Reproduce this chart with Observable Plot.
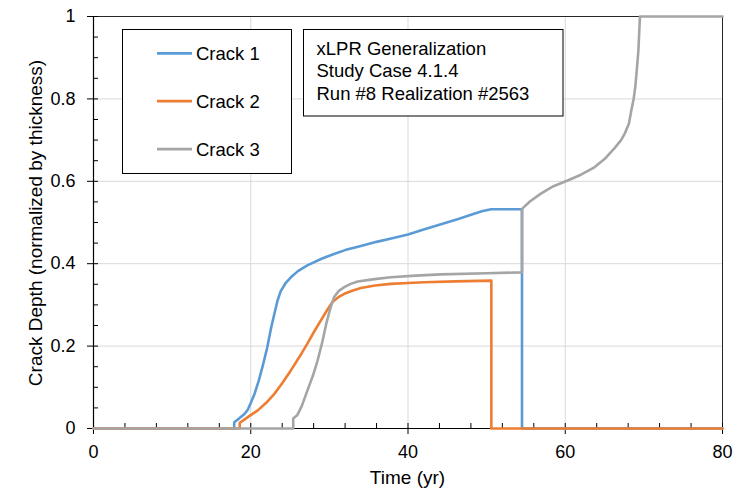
<!DOCTYPE html>
<html><head><meta charset="utf-8">
<script src="https://cdn.jsdelivr.net/npm/d3@7"></script>
<script src="https://cdn.jsdelivr.net/npm/@observablehq/plot@0.6"></script>
<style>
body{margin:0;background:#fff;}
#chart{position:relative;width:742px;height:489px;}
</style></head><body><div id="chart"></div>
<script>
// ---- data ----
const seriesNames = ["Crack 1", "Crack 2", "Crack 3"];
const seriesColors = ["#5B9BD5", "#ED7D31", "#A5A5A5"];

const crack1Time  = [0, 17.9, 17.9, 18.5, 19.2, 19.6, 20.0, 20.5, 21.0, 21.5, 22.1, 22.6, 23.0, 23.4, 23.8, 24.4, 25.1, 26.0, 27.2, 29.0, 30.5, 32.0, 34.0, 36.0, 38.0, 40.0, 42.0, 44.2, 46.5, 48.4, 49.5, 50.6, 54.5, 54.5, 80];
const crack1Depth = [0, 0, 0.015, 0.024, 0.035, 0.045, 0.062, 0.085, 0.115, 0.150, 0.197, 0.245, 0.278, 0.310, 0.333, 0.352, 0.367, 0.382, 0.396, 0.412, 0.423, 0.433, 0.443, 0.453, 0.462, 0.471, 0.483, 0.496, 0.509, 0.521, 0.528, 0.532, 0.532, 0, 0];

const crack2Time  = [0, 18.6, 18.6, 19.0, 19.8, 20.9, 22.0, 23.0, 24.0, 25.1, 26.2, 27.2, 28.0, 28.9, 29.7, 30.4, 31.1, 31.9, 33.0, 34.0, 35.8, 37.8, 40.0, 42.1, 46.0, 50.6, 50.6, 80];
const crack2Depth = [0, 0, 0.014, 0.019, 0.030, 0.044, 0.063, 0.084, 0.110, 0.141, 0.174, 0.206, 0.233, 0.262, 0.287, 0.307, 0.318, 0.327, 0.335, 0.341, 0.347, 0.351, 0.353, 0.355, 0.357, 0.359, 0, 0];

const crack3Time  = [0, 25.4, 25.4, 25.9, 26.5, 27.2, 27.9, 28.5, 29.1, 29.6, 30.1, 30.6, 31.2, 31.9, 32.7, 33.6, 35.5, 37.8, 41.0, 44.2, 50.0, 54.5, 54.5, 55.5, 56.9, 58.5, 60.3, 62.0, 63.7, 65.0, 66.3, 67.1, 67.6, 68.1, 68.4, 68.7, 68.9, 69.1, 69.3, 69.5, 80];
const crack3Depth = [0, 0, 0.024, 0.032, 0.055, 0.092, 0.128, 0.165, 0.210, 0.254, 0.290, 0.319, 0.334, 0.343, 0.351, 0.357, 0.362, 0.367, 0.371, 0.374, 0.377, 0.379, 0.533, 0.551, 0.570, 0.588, 0.602, 0.616, 0.634, 0.654, 0.681, 0.700, 0.717, 0.740, 0.772, 0.800, 0.828, 0.870, 0.917, 1.0, 1.0];

const xTicks = [0, 20, 40, 60, 80];
const xMinorTicks = [4, 8, 12, 16, 24, 28, 32, 36, 44, 48, 52, 56, 64, 68, 72, 76];
const yTicks = [0, 0.2, 0.4, 0.6, 0.8, 1];
const yMinorTicks = [0.05, 0.1, 0.15, 0.25, 0.3, 0.35, 0.45, 0.5, 0.55, 0.65, 0.7, 0.75, 0.85, 0.9, 0.95];
const xGrid = [20, 40, 60];
const yGrid = [0.2, 0.4, 0.6, 0.8];

const xLabel = "Time (yr)";
const yLabel = "Crack Depth (normalized by thickness)";
const noteLines = ["xLPR Generalization", "Study Case 4.1.4", "Run #8 Realization #2563"];

// ---- layout ----
const W = 742, H = 489, mL = 93, mR = 20, mT = 16, mB = 61;
const pw = W - mL - mR, ph = H - mT - mB;
const FONT = "'Liberation Sans', Arial, sans-serif";

const rows = (t, d, name) => t.map((x, i) => ({time: x, depth: d[i], crack: name}));
const series = [
  rows(crack1Time, crack1Depth, seriesNames[0]),
  rows(crack2Time, crack2Depth, seriesNames[1]),
  rows(crack3Time, crack3Depth, seriesNames[2])
];

const plot = Plot.plot({
  width: W, height: H,
  marginLeft: mL, marginRight: mR, marginTop: mT, marginBottom: mB,
  style: {fontFamily: FONT, fontSize: "18px", color: "#000", background: "#fff", overflow: "visible"},
  x: {domain: [0, 80], label: null},
  y: {domain: [0, 1], label: null},
  marks: [
    Plot.gridX(xGrid, {stroke: "#d9d9d9", strokeOpacity: 1, strokeWidth: 1}),
    Plot.gridY(yGrid, {stroke: "#d9d9d9", strokeOpacity: 1, strokeWidth: 1}),
    Plot.frame({stroke: "#262626", strokeWidth: 1}),
    Plot.axisX(xTicks, {tickSize: 6, tickPadding: 11, fontSize: 18, label: null, tickFormat: d => String(d)}),
    Plot.axisY(yTicks, {tickSize: 6, tickPadding: 12, fontSize: 18, label: null, tickFormat: d => String(d)}),
    Plot.tickX(xTicks, {x: d => d, insetTop: ph - 5, stroke: "#000"}),
    Plot.tickX(xMinorTicks, {x: d => d, insetTop: ph - 5, stroke: "#000"}),
    Plot.tickY(yTicks, {y: d => d, insetRight: pw - 5, stroke: "#000"}),
    Plot.tickY(yMinorTicks, {y: d => d, insetRight: pw - 5, stroke: "#000"}),
    Plot.ruleX([0], {stroke: "#000", strokeWidth: 1.2}),
    Plot.ruleY([0], {stroke: "#000", strokeWidth: 1.2}),
    ...series.map((s, i) => Plot.line(s, {x: "time", y: "depth", stroke: seriesColors[i], strokeWidth: 2.6, strokeLinejoin: "round"}))
  ]
});

document.getElementById("chart").appendChild(plot);

// ---- titles, legend and note (inside plot frame) ----
const svg = d3.select(plot);
svg.append("text")
  .attr("x", 407.5).attr("y", 484)
  .attr("text-anchor", "middle")
  .style("font-family", FONT).style("font-size", "19px").attr("fill", "#000")
  .text(xLabel);
svg.append("text")
  .attr("transform", "translate(41.5,223) rotate(-90)")
  .attr("text-anchor", "middle")
  .style("font-family", FONT).style("font-size", "19px").attr("fill", "#000")
  .text(yLabel);

const lg = svg.append("g").attr("text-anchor", "start");
lg.append("rect").attr("x", 122.5).attr("y", 29.5).attr("width", 169).attr("height", 144)
  .attr("fill", "#fff").attr("stroke", "#000").attr("stroke-width", 1);
const rowY = [53.3, 101.2, 149.2];
seriesNames.forEach((name, i) => {
  lg.append("line").attr("x1", 157).attr("x2", 192).attr("y1", rowY[i]).attr("y2", rowY[i])
    .attr("stroke", seriesColors[i]).attr("stroke-width", 2.7);
  lg.append("text").attr("x", 196).attr("y", rowY[i] + 6.6)
    .attr("text-anchor", "start")
    .style("font-family", FONT).style("font-size", "18.5px").attr("fill", "#000")
    .text(name);
});

const nt = svg.append("g").attr("text-anchor", "start");
nt.append("rect").attr("x", 303.5).attr("y", 29.5).attr("width", 259.5).attr("height", 86.5)
  .attr("fill", "#fff").attr("stroke", "#000").attr("stroke-width", 1);
const noteY = [55, 77.3, 99.6];
noteLines.forEach((t, i) => {
  nt.append("text").attr("x", 316.5).attr("y", noteY[i])
    .attr("text-anchor", "start")
    .style("font-family", FONT).style("font-size", "18.5px").attr("fill", "#000")
    .text(t);
});
</script>
</body></html>
